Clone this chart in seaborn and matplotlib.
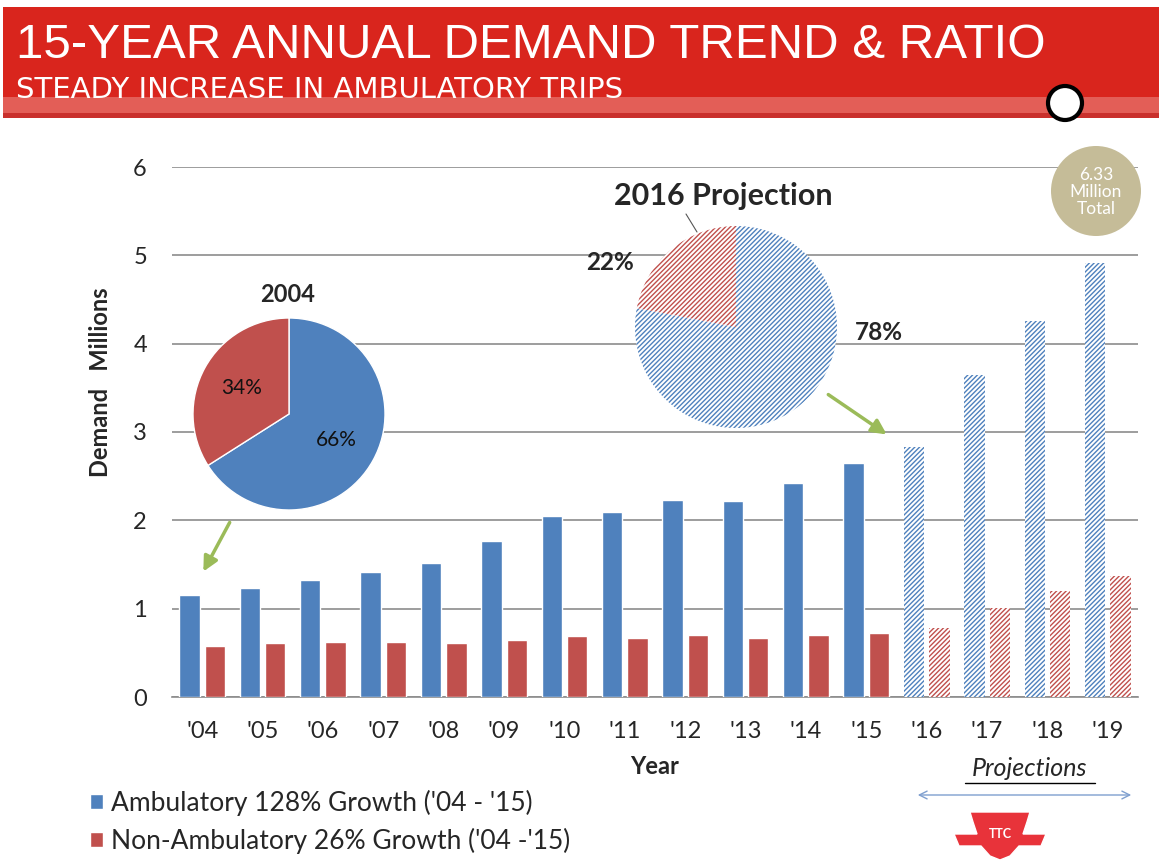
import pandas as pd
import seaborn as sns
import matplotlib.pyplot as plt
from matplotlib.patches import Rectangle, Circle, Polygon, Patch

# Values (millions of trips)
years = ["'04", "'05", "'06", "'07", "'08", "'09", "'10", "'11",
         "'12", "'13", "'14", "'15", "'16", "'17", "'18", "'19"]
ambulatory = [1.15, 1.23, 1.32, 1.41, 1.52, 1.77, 2.05, 2.10,
              2.23, 2.22, 2.42, 2.65, 2.83, 3.65, 4.26, 4.91]
non_ambulatory = [0.58, 0.61, 0.62, 0.62, 0.61, 0.65, 0.69, 0.67,
                  0.70, 0.67, 0.70, 0.73, 0.78, 1.01, 1.20, 1.37]
projection_years = ["'16", "'17", "'18", "'19"]
series_names = ["Ambulatory 128% Growth ('04 - '15)",
                "Non-Ambulatory 26% Growth ('04 -'15)"]
pie_2004 = [66, 34]
pie_2016 = [78, 22]

BLUE = '#4F81BD'
RED = '#C0504D'
GREEN = '#9BBB59'
HATCH = '///////'

sns.set_style('white')
plt.rcParams['font.family'] = ['Lato', 'DejaVu Sans']
plt.rcParams['hatch.linewidth'] = 1.0

W, H = 1159, 867
fig = plt.figure(figsize=(W / 100, H / 100), dpi=100)


def px_rect(x0, y0, x1, y1):
    # pixel box (top-left origin) -> figure fraction rect
    return [x0 / W, 1 - y1 / H, (x1 - x0) / W, (y1 - y0) / H]


# Main bar chart
df = pd.DataFrame({
    'year': years * 2,
    'value': ambulatory + non_ambulatory,
    'series': [series_names[0]] * len(years) + [series_names[1]] * len(years),
})
ax = fig.add_axes(px_rect(172, 167, 1138, 697))
sns.barplot(data=df, x='year', y='value', hue='series', order=years,
            hue_order=series_names, palette=[BLUE, RED], width=0.84, gap=0.2,
            saturation=1, legend=False, ax=ax, zorder=3)

proj_idx = [years.index(y) for y in projection_years]
for p in ax.patches:
    idx = int(round(p.get_x() + p.get_width() / 2))
    if idx in proj_idx:
        col = p.get_facecolor()
        p.set_facecolor('white')
        p.set_edgecolor(col)
        p.set_hatch(HATCH)
        p.set_linewidth(0)

ax.set_ylim(0, 6)
ax.set_xlim(-0.5, len(years) - 0.5)
ax.set_yticks(range(0, 7))
ax.grid(axis='y', color='#8C8C8C', linewidth=1.2, zorder=0)
ax.set_axisbelow(True)
for s in ['left', 'top', 'right']:
    ax.spines[s].set_visible(False)
ax.spines['bottom'].set_color('#8C8C8C')
ax.spines['bottom'].set_linewidth(1.2)
ax.tick_params(axis='both', length=0, labelsize=17)
ax.tick_params(axis='y', pad=18)
ax.tick_params(axis='x', pad=17)
ax.set_xlabel('Year', fontsize=17, fontweight='bold', labelpad=10)
ax.set_ylabel('Demand   Millions', fontsize=17, fontweight='bold')
ax.yaxis.set_label_coords(-0.062, 0.594)

legend_handles = [Patch(facecolor=BLUE), Patch(facecolor=RED)]
fig.legend(legend_handles, series_names, loc='upper left',
           bbox_to_anchor=(66 / W, 1 - 766 / H), frameon=False, fontsize=19,
           handlelength=0.5, handleheight=0.5, handletextpad=0.3,
           labelspacing=0.45)

# 2004 pie
pax1 = fig.add_axes(px_rect(289 - 96, 414 - 96, 289 + 96, 414 + 96))
pax1.pie(pie_2004, colors=[BLUE, RED], startangle=90, counterclock=False,
         autopct='%d%%', pctdistance=0.56,
         wedgeprops=dict(edgecolor='white', linewidth=1),
         textprops=dict(fontsize=15, color='#111111'))
pax1.set_xlim(-1, 1)
pax1.set_ylim(-1, 1)
pax1.set_aspect('equal')
pax1.axis('off')

# 2016 projection pie (hatched)
pax2 = fig.add_axes(px_rect(736 - 101, 327 - 101, 736 + 101, 327 + 101))
wedges, _ = pax2.pie(pie_2016, colors=['white', 'white'], startangle=90,
                     counterclock=False)
for w, c in zip(wedges, [BLUE, RED]):
    w.set_edgecolor(c)
    w.set_hatch(HATCH)
    w.set_linewidth(0)
pax2.set_xlim(-1, 1)
pax2.set_ylim(-1, 1)
pax2.set_aspect('equal')
pax2.axis('off')

# Decoration layer in pixel coordinates
deco = fig.add_axes([0, 0, 1, 1], zorder=10)
deco.set_xlim(0, W)
deco.set_ylim(H, 0)
deco.axis('off')
deco.patch.set_alpha(0)

deco.add_patch(Rectangle((3, 7), W, 90, color='#D9251D', lw=0))
deco.add_patch(Rectangle((3, 97), W, 16, color='#E35E57', lw=0))
deco.add_patch(Rectangle((3, 113), W, 5, color='#C9302C', lw=0))
deco.text(16, 46, '15-YEAR ANNUAL DEMAND TREND & RATIO', color='white',
          fontsize=35.5, va='center', ha='left', family=['Liberation Sans', 'DejaVu Sans'])
deco.text(16, 90, 'STEADY INCREASE IN AMBULATORY TRIPS', color='white',
          fontsize=21, va='center', ha='left', family=['DejaVu Sans'])
deco.add_patch(Circle((1065, 103), 17, facecolor='white', edgecolor='black', lw=3))

# pie titles and labels
deco.text(288, 295, '2004', fontsize=17, fontweight='bold', ha='center', va='center')
deco.text(723, 196, '2016 Projection', fontsize=22, fontweight='bold', ha='center', va='center')
deco.plot([686, 697], [214, 232], color='#555555', lw=0.8)
deco.text(610, 262, '22%', fontsize=17.5, fontweight='bold', ha='center', va='center')
deco.text(879, 333, '78%', fontsize=17.5, fontweight='bold', ha='center', va='center')

# green arrows
arrow_kw = dict(arrowstyle='-|>', color=GREEN, lw=2.5, mutation_scale=22)
deco.annotate('', xy=(202, 574), xytext=(231, 520), arrowprops=arrow_kw)
deco.annotate('', xy=(889, 436), xytext=(826, 393), arrowprops=arrow_kw)

# total bubble
deco.add_patch(Circle((1096, 191), 45, color='#C5BC98', lw=0))
deco.text(1096, 192, '6.33\nMillion\nTotal', color='white', fontsize=12.5,
          ha='center', va='center', linespacing=1.1)

# projections marker
deco.text(1030, 769, 'Projections', fontsize=18, fontstyle='italic',
          ha='center', va='center')
deco.plot([965, 1095], [783, 783], color='black', lw=1)
deco.annotate('', xy=(1134, 795), xytext=(915, 795),
              arrowprops=dict(arrowstyle='<->', color='#7F9FCF', lw=1,
                              mutation_scale=14))

# simplified TTC logo
logo = [(970, 812), (1030, 812), (1027, 822), (1023, 834), (1046, 834),
        (1041, 846), (1019, 846), (1010, 856), (1000, 860), (990, 856),
        (981, 846), (959, 846), (954, 834), (977, 834), (973, 822)]
deco.add_patch(Polygon(logo, closed=True, facecolor='#E8333A',
                       edgecolor='white', lw=1))
deco.text(1000, 834, 'TTC', color='white', fontsize=9, fontweight='bold',
          ha='center', va='center')

fig.savefig('out.png', dpi=100)
